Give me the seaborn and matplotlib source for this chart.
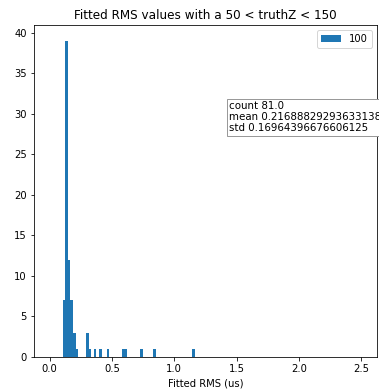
import matplotlib
matplotlib.use("Agg")
import matplotlib.pyplot as plt
import seaborn as sns
import numpy as np

# Fitted RMS values (us), one entry per occupied histogram bin, and their counts
rms_values = [0.1146, 0.1354, 0.1563, 0.1771, 0.1979, 0.2188,
              0.3021, 0.3229, 0.3646, 0.4063, 0.4688,
              0.5938, 0.6146, 0.7396, 0.8438, 1.1563]
counts = [7, 39, 12, 7, 3, 1,
          3, 1, 1, 1, 1,
          1, 1, 1, 1, 1]

n_bins = 120
bin_range = (0.0, 2.5)
series_label = "100"
title = "Fitted RMS values with a 50 < truthZ < 150"
x_label = "Fitted RMS (us)"
stats_text = "count 81.0\nmean 0.21688829293633138\nstd 0.16964396676606125"

fig = plt.figure(figsize=(379 / 72, 390 / 72), dpi=72)
ax = fig.add_axes([0.0897, 0.0846, 0.9043, 0.8514])

sns.histplot(x=rms_values, weights=counts, bins=n_bins, binrange=bin_range,
             color="#1f77b4", alpha=1.0, edgecolor="none", linewidth=0,
             label=series_label, ax=ax)

ax.set_title(title, fontsize=12)
ax.set_xlabel(x_label, fontsize=10)
ax.set_ylabel("")
ax.set_yticks(np.arange(0, 41, 5))
ax.set_xticks(np.arange(0, 2.51, 0.5))
ax.tick_params(labelsize=10)
ax.legend(loc="upper right", fontsize=10)

ax.text(0.57, 0.77, stats_text, transform=ax.transAxes, fontsize=10.3,
        va="top", ha="left", linespacing=1.1,
        bbox=dict(boxstyle="square,pad=0.25", facecolor="white", edgecolor="#999999"))

fig.savefig("out.png", dpi=72)
